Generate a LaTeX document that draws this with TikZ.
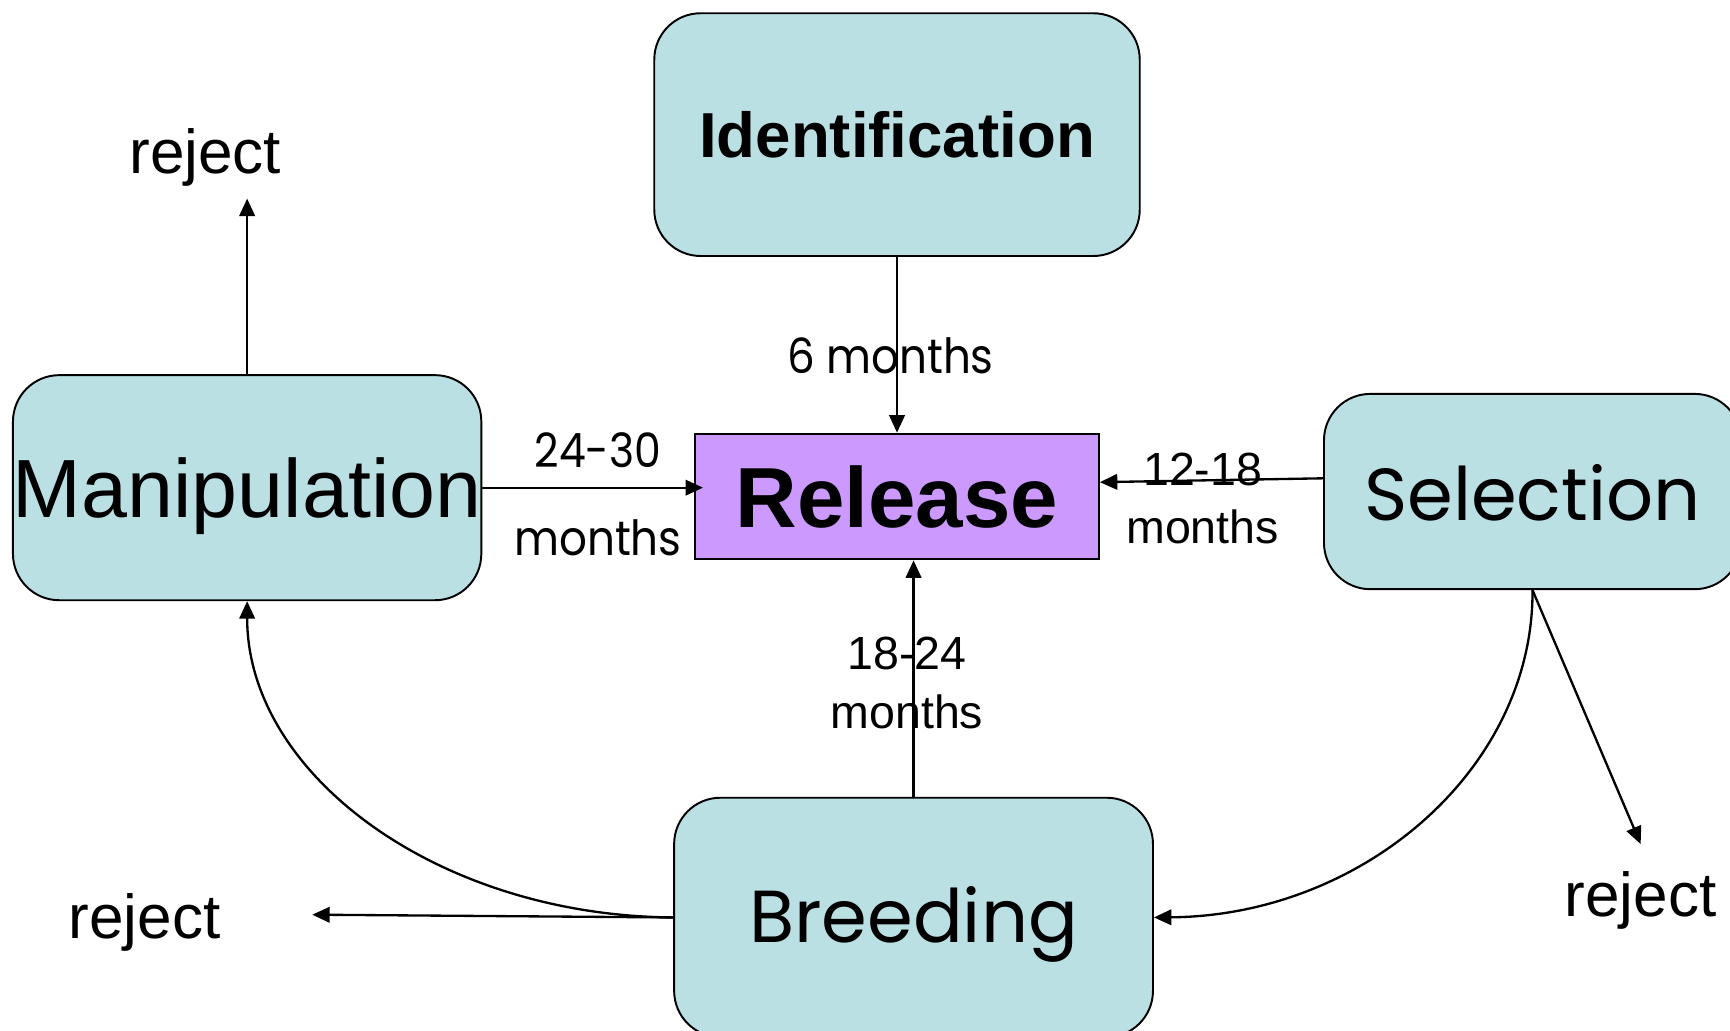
\documentclass[tikz,border=0pt]{standalone}
\usepackage{fontspec}
\setmainfont{Liberation Sans}
\newfontfamily\gothic{Poppins}
\newfontfamily\gothicnarrow[FakeStretch=0.9]{Poppins}
\usepackage{tikz}
\usetikzlibrary{calc, shapes, arrows, arrows.meta}
\usetikzlibrary{positioning}
\definecolor{stagefill}{RGB}{186,224,227}
\definecolor{releasefill}{RGB}{204,153,255}
\tikzstyle{stage} = [rectangle, draw, line width=0.5pt, fill=stagefill, rounded corners=0.42cm, inner sep=0pt, text centered]
\tikzstyle{release} = [rectangle, draw, line width=0.5pt, fill=releasefill, inner sep=0pt, text centered]
\tikzstyle{timelabel} = [inner sep=0pt, align=center, font=\fontsize{12}{15}\selectfont]

\begin{document}
\begin{tikzpicture}[>={Triangle[length=4.5pt,width=4pt]}, line width=0.6pt]
        \useasboundingbox (0, 0) rectangle (15.68, -9.34);

        \node[stage, minimum width=4.4cm, minimum height=2.2cm] at (8.13, -1.22) (Identification) {\fontsize{16.4}{18}\selectfont\bfseries Identification};
        \node[stage, minimum width=4.24cm, minimum height=2.04cm, text depth=0pt] at (2.24, -4.42) (Manipulation) {\fontsize{21.3}{24}\selectfont Manipulation};
        \node[release, minimum width=3.66cm, minimum height=1.14cm] at (8.13, -4.50) (Release) {\fontsize{22}{24}\selectfont\bfseries Release};
        \node[stage, minimum width=3.78cm, minimum height=1.77cm] at (13.89, -4.455) (Selection) {};
        \node at (13.89, -4.47) {\gothic\fontsize{19}{22}\selectfont Selection};
        \node[stage, minimum width=4.34cm, minimum height=2.17cm] at (8.28, -8.315) (Breeding) {};
        \node at (8.28, -8.38) {\gothic\fontsize{19}{22}\selectfont Breeding};

        \node at (1.86, -1.43) (rejectA) {\fontsize{16}{18}\selectfont reject};
        \node at (1.31, -8.36) (rejectB) {\fontsize{16}{18}\selectfont reject};
        \node at (14.87, -8.16) (rejectC) {\fontsize{16}{18}\selectfont reject};

        \coordinate (rejectAtip) at (2.24, -1.80);
        \coordinate (rejectBtip) at (2.83, -8.29);
        \coordinate (rejectCtip) at (14.87, -7.65);

        \node[timelabel] at (8.07, -3.22) (sixMonths) {\gothicnarrow\fontsize{12.5}{14}\selectfont 6 months};
        \node[timelabel] at (5.42, -4.08) (manipTop) {\gothicnarrow\fontsize{12.2}{14}\selectfont 24-30};
        \node[timelabel] at (5.42, -4.87) (manipBottom) {\gothicnarrow\fontsize{12.5}{14}\selectfont months};
        \node[timelabel] at (10.90, -4.52) (selTime) {12-18\\months};
        \node[timelabel] at (8.22, -6.19) (breedTime) {18-24\\months};

        \draw[->] (Manipulation.north) -- (rejectAtip);
        \draw[->] (Identification.south) -- (Release.north);
        \draw[->] (Manipulation.east) -- ($(Manipulation.east -| Release.west)+(0.08, 0)$);
        \draw[->] ($(Selection.west)+(0, 0.12)$) -- ($(Release.east)+(0, 0.13)$);
        \draw[->] (Breeding.north) -- (Breeding.north |- Release.south);
        \draw[->] (Selection.south) -- (rejectCtip);
        \draw[->] (Selection.south) .. controls (13.90, -6.97) and (12.35, -8.30) .. (Breeding.east);
        \draw[->] (Breeding.west) .. controls (3.97, -8.30) and (2.24, -7.02) .. (Manipulation.south);
        \draw[->] (Breeding.west) -- (rejectBtip);

    \end{tikzpicture}
\end{document}
